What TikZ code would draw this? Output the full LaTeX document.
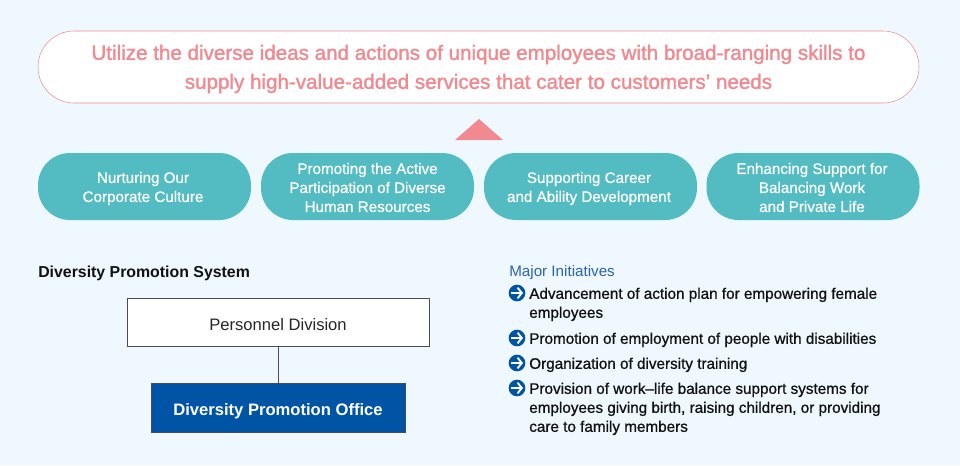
\documentclass[tikz,border=0pt]{standalone}
\usepackage{fontspec}
\usetikzlibrary{arrows.meta}
\setmainfont{Liberation Sans}
\newfontfamily\medfont[FakeBold=0.8]{Liberation Sans}
\newfontfamily\goalfont[FakeBold=1.5]{Liberation Sans}
\definecolor{pagebg}{HTML}{EFF8FF}
\definecolor{pinkline}{HTML}{F08A90}
\definecolor{tealpill}{HTML}{52BCC2}
\definecolor{officeblue}{HTML}{0054A6}
\definecolor{headblue}{HTML}{2A63AE}
\definecolor{textblack}{HTML}{111111}
\tikzset{
    goalpill/.style={draw=pinkline, fill=white, rounded corners=27pt, minimum width=660.75pt, minimum height=54pt},
    goaltext/.style={align=center, text=pinkline, font=\fontsize{15.45}{21.75}\goalfont\selectfont},
    themepill/.style={fill=tealpill, rounded corners=24pt, minimum width=159.75pt, minimum height=50.25pt},
    themetext/.style={align=center, text=white, font=\fontsize{11.4}{14.25}\medfont\selectfont},
    initem/.style={anchor=north west, align=left, inner sep=0pt, text=textblack, font=\fontsize{11.45}{14.25}\medfont\selectfont},
    bulletdot/.style={circle, fill=officeblue, minimum size=12.5pt, inner sep=0pt},
}
\begin{document}
\begin{tikzpicture}[x=0.75pt, y=-0.75pt]
    % Background, coordinates are in pixels of the reference
    \fill[pagebg] (0,0) rectangle (960,465);
    \useasboundingbox (0,0) rectangle (960,465);

    % Goal and the triangle under it
    \node[goalpill] (goal) at (478.5,67) {};
    \node[goaltext] (goaltxt) at (478.5,69) {Utilize the diverse ideas and actions of unique employees with broad-ranging skills to\\supply high-value-added services that cater to customers’ needs};
    \fill[pinkline] (455,140) -- (479,119) -- (503,140) -- cycle;

    % Four themes
    \foreach \name/\x in {culture/144.5,diverse/367.5,career/590.5,balance/813} {
        \node[themepill] (\name) at (\x,186.5) {};
    }
    \node[themetext] (culturetxt) at (143,188.5) {Nurturing Our\\Corporate Culture};
    \node[themetext] (diversetxt) at (367.5,187.5) {Promoting the Active\\Participation of Diverse\\Human Resources};
    \node[themetext] (careertxt) at (589,188.5) {Supporting Career\\and Ability Development};
    \node[themetext] (balancetxt) at (812,187.5) {Enhancing Support for\\Balancing Work\\and Private Life};

    % System
    \node[anchor=base west, inner sep=0pt, text=textblack, font=\fontsize{11.9}{14}\selectfont\bfseries] (systemhead) at (38,277) {Diversity Promotion System};
    \node[draw=black!70, fill=white, minimum width=226.5pt, minimum height=36pt] (personnel) at (278.5,322) {};
    \node[text=black!85, font=\fontsize{12.45}{14}\selectfont] (personneltxt) at (278,324.5) {Personnel Division};
    \node[draw=black!70, fill=officeblue, minimum width=190.5pt, minimum height=36.5pt] (office) at (278.5,407.5) {};
    \node[text=white, font=\fontsize{12.45}{14}\selectfont\bfseries] (officetxt) at (278,411) {Diversity Promotion Office};
    \draw[black!70] (personnel) -- (office);

    % Initiatives
    \node[anchor=base west, inner sep=0pt, text=headblue, font=\fontsize{11.4}{14}\selectfont] (majorhead) at (509,276) {Major Initiatives};
    \node[initem] (itema) at (529,287.5) {Advancement of action plan for empowering female\\employees};
    \node[initem] (itemb) at (529,332.5) {Promotion of employment of people with disabilities};
    \node[initem] (itemc) at (529,357.5) {Organization of diversity training};
    \node[initem] (itemd) at (529,382.5) {Provision of work–life balance support systems for\\employees giving birth, raising children, or providing\\care to family members};
    \foreach \name/\y in {a/293,b/338,c/363,d/388} {
        \node[bulletdot] (dot\name) at (517,\y) {};
        \draw[white, line width=1.4pt, -{Straight Barb[length=3.2pt,width=8pt]}] ([xshift=-4.2pt]dot\name.center) -- ([xshift=4.5pt]dot\name.center);
    }
\end{tikzpicture}
\end{document}
